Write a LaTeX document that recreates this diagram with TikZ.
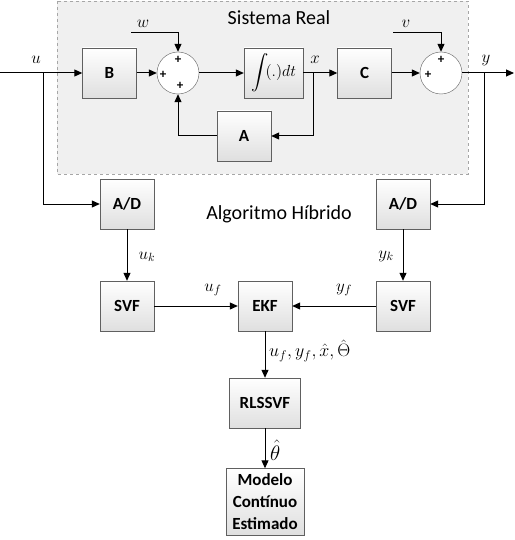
\documentclass[tikz,border=0pt]{standalone}
\usepackage{fix-cm}
\usepackage{exscale}
\usepackage{fontspec}
\setmainfont{Carlito}
\usetikzlibrary{arrows.meta}

\begin{document}
\begin{tikzpicture}[x=1pt, y=-1pt,
  box/.style={draw=gray!75!black, top color=white, bottom color=gray!25,
              minimum width=54pt, minimum height=50pt, inner sep=1pt,
              font=\fontsize{17}{22}\selectfont\bfseries, align=center},
  sumc/.style={circle, draw=gray!75!black, fill=white, minimum size=42pt, inner sep=0pt},
  arr/.style={-{Triangle[length=8pt,width=7pt]}, line width=1pt},
  lbl/.style={font=\fontsize{17}{17}\selectfont, inner sep=0pt},
  pl/.style={font=\fontsize{13}{13}\selectfont\bfseries, inner sep=0pt},
  ttl/.style={font=\fontsize{20}{20}\selectfont, inner sep=0pt}
]
\useasboundingbox (0,0) rectangle (514,540);

% planta
\draw[gray!70, dashed, fill=gray!12] (57,1) rectangle (468,174);
\node[ttl] (sis) at (279,18) {Sistema Real};

\node[box] (B)   at (109.5,73) {B};
\node[sumc] (s1) at (178,73) {};
\node[box, minimum width=59pt, font=\fontsize{16}{16}\selectfont] (int) at (273.5,73) {$\displaystyle\int\!(.)dt$};
\node[box] (C)   at (364.5,73) {C};
\node[sumc] (s2) at (441,73) {};
\node[box] (A)   at (244,136) {A};

\node[pl] (p1t) at (178,60) {+};
\node[pl] (p1l) at (163,75) {+};
\node[pl] (p1b) at (180,86) {+};
\node[pl] (p2t) at (441,60) {+};
\node[pl] (p2l) at (428,75) {+};

\coordinate (uin) at (0,73);
\coordinate (uj)  at (43,73);
\coordinate (xj)  at (313,73);
\coordinate (yj)  at (484,73);
\coordinate (yout) at (514,73);
\coordinate (win) at (131,33);
\coordinate (vin) at (393,33);

\node[lbl] (lu) at (36,60) {$u$};
\node[lbl] (lw) at (143,24) {$w$};
\node[lbl] (lx) at (315,60) {$x$};
\node[lbl] (lv) at (406,24) {$v$};
\node[lbl] (ly) at (486,60) {$y$};

\draw[arr] (uin) -- (B);
\draw[arr] (B) -- (s1);
\draw[arr] (s1) -- (int);
\draw[arr] (int) -- (C);
\draw[arr] (C) -- (s2);
\draw[arr] (s2) -- (yout);
\draw[arr] (win) -| (s1.north);
\draw[arr] (vin) -| (s2.north);
\draw[arr] (xj) |- (A.east);
\draw[arr] (A.west) -| (s1.south);

% algoritmo
\node[ttl] (alg) at (279,214) {Algoritmo Híbrido};
\node[box] (ad1)  at (127,204) {A/D};
\node[box] (ad2)  at (403,204) {A/D};
\node[box] (svf1) at (127,306) {SVF};
\node[box] (ekf)  at (265,306) {EKF};
\node[box] (svf2) at (403,306) {SVF};
\node[box, minimum width=71pt] (rls) at (265,403) {RLSSVF};
\node[box, minimum width=78pt, minimum height=67pt] (mod) at (265,502) {Modelo\\Contínuo\\Estimado};

\node[lbl] (luk) at (147,257) {$u_k$};
\node[lbl] (lyk) at (386,256) {$y_k$};
\node[lbl] (luf) at (213,290) {$u_f$};
\node[lbl] (lyf) at (344,290) {$y_f$};
\node[lbl, anchor=west, font=\fontsize{18}{18}\selectfont] (lest) at (269,351) {$u_f,y_f,\hat{x},\hat{\Theta}$};
\node[lbl, anchor=west, font=\fontsize{21}{21}\selectfont] (lth) at (270,450) {$\hat{\theta}$};

\draw[arr] (uj) |- (ad1.west);
\draw[arr] (yj) |- (ad2.east);
\draw[arr] (ad1) -- (svf1);
\draw[arr] (ad2) -- (svf2);
\draw[arr] (svf1) -- (ekf);
\draw[arr] (svf2) -- (ekf);
\draw[arr] (ekf) -- (rls);
\draw[arr] (rls) -- (mod);
\end{tikzpicture}
\end{document}
